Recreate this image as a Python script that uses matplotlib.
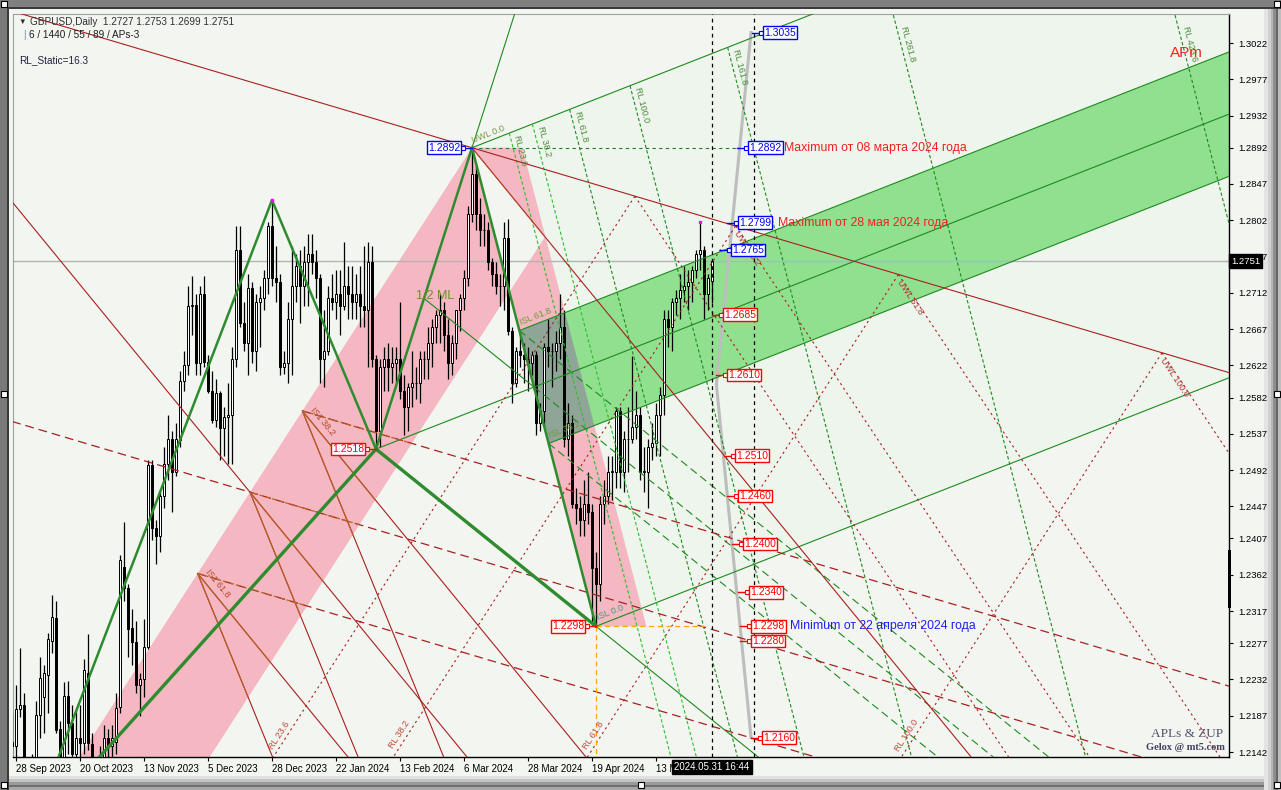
import numpy as np
import pandas as pd
import matplotlib
matplotlib.use("Agg")
import matplotlib.pyplot as plt
import matplotlib.transforms as mtransforms
from matplotlib.patches import Polygon, Rectangle

plt.rcParams['font.family'] = ['Liberation Sans', 'DejaVu Sans']

# daily bars GBPUSD, 27 Sep 2023 .. 31 May 2024 (no bars on 25 Dec / 1 Jan)
dates = pd.bdate_range('2023-09-27', '2024-05-31')
dates = dates[~dates.isin(pd.to_datetime(['2023-12-25', '2024-01-01']))]

opens = [1.2155,1.2150,1.2195,1.2200,1.2080,1.2095,1.2135,1.2188,1.2210,1.2238,
         1.2280,1.2308,1.2170,1.2132,1.2212,1.2178,1.2140,1.2160,1.2153,1.2240,
         1.2152,1.2100,1.2125,1.2130,1.2160,1.2150,1.2155,1.2198,1.2372,1.2345,
         1.2296,1.2278,1.2225,1.2232,1.2272,1.2498,1.2420,1.2410,1.2460,1.2500,
         1.2530,1.2490,1.2529,1.2602,1.2622,1.2695,1.2697,1.2625,1.2710,1.2626,
         1.2590,1.2554,1.2587,1.2544,1.2558,1.2560,1.2630,1.2765,1.2675,1.2650,
         1.2718,1.2640,1.2700,1.2705,1.2730,1.2795,1.2730,1.2725,1.2620,1.2625,
         1.2680,1.2720,1.2745,1.2720,1.2750,1.2760,1.2750,1.2730,1.2630,1.2640,
         1.2705,1.2700,1.2710,1.2695,1.2720,1.2710,1.2700,1.2710,1.2695,1.2690,
         1.2750,1.2630,1.2540,1.2620,1.2630,1.2620,1.2625,1.2630,1.2590,1.2570,
         1.2595,1.2600,1.2600,1.2630,1.2630,1.2650,1.2670,1.2685,1.2690,1.2660,
         1.2625,1.2650,1.2690,1.2705,1.2730,1.2810,1.2860,1.2810,1.2790,1.2790,
         1.2750,1.2735,1.2720,1.2720,1.2780,1.2665,1.2600,1.2640,1.2635,1.2630,
         1.2625,1.2635,1.2550,1.2565,1.2645,1.2640,1.2640,1.2650,1.2670,1.2530,
         1.2550,1.2450,1.2445,1.2430,1.2450,1.2440,1.2370,1.2350,1.2450,1.2460,
         1.2490,1.2490,1.2565,1.2490,1.2530,1.2530,1.2545,1.2560,1.2490,1.2490,
         1.2520,1.2525,1.2560,1.2585,1.2680,1.2670,1.2700,1.2705,1.2715,1.2720,
         1.2725,1.2740,1.2760,1.2765,1.2710,1.2727]
highs = [1.2190,1.2225,1.2271,1.2215,1.2135,1.2140,1.2205,1.2260,1.2250,1.2290,
         1.2337,1.2330,1.2180,1.2229,1.2230,1.2200,1.2195,1.2200,1.2258,1.2289,
         1.2165,1.2135,1.2150,1.2175,1.2170,1.2175,1.2215,1.2386,1.2428,1.2350,
         1.2320,1.2305,1.2240,1.2307,1.2505,1.2505,1.2430,1.2465,1.2520,1.2560,
         1.2540,1.2550,1.2615,1.2640,1.2720,1.2733,1.2710,1.2720,1.2733,1.2635,
         1.2615,1.2605,1.2590,1.2570,1.2600,1.2645,1.2795,1.2795,1.2700,1.2735,
         1.2725,1.2710,1.2720,1.2740,1.2800,1.2827,1.2770,1.2735,1.2640,1.2700,
         1.2770,1.2760,1.2765,1.2770,1.2785,1.2785,1.2765,1.2735,1.2690,1.2720,
         1.2735,1.2740,1.2740,1.2775,1.2745,1.2745,1.2735,1.2745,1.2770,1.2775,
         1.2770,1.2635,1.2630,1.2645,1.2650,1.2645,1.2645,1.2700,1.2610,1.2600,
         1.2640,1.2620,1.2640,1.2640,1.2670,1.2680,1.2690,1.2710,1.2700,1.2680,
         1.2660,1.2690,1.2710,1.2740,1.2820,1.2892,1.2870,1.2830,1.2810,1.2800,
         1.2755,1.2750,1.2735,1.2800,1.2803,1.2670,1.2645,1.2665,1.2650,1.2645,
         1.2640,1.2640,1.2575,1.2650,1.2680,1.2650,1.2665,1.2710,1.2690,1.2575,
         1.2560,1.2470,1.2460,1.2480,1.2490,1.2450,1.2390,1.2460,1.2480,1.2510,
         1.2510,1.2570,1.2570,1.2540,1.2570,1.2634,1.2590,1.2570,1.2520,1.2530,
         1.2550,1.2575,1.2595,1.2690,1.2690,1.2705,1.2715,1.2735,1.2745,1.2740,
         1.2745,1.2765,1.2800,1.2770,1.2735,1.2753]
lows = [1.2110,1.2110,1.2185,1.2075,1.2037,1.2050,1.2115,1.2160,1.2165,1.2190,
        1.2265,1.2165,1.2123,1.2120,1.2140,1.2120,1.2090,1.2125,1.2140,1.2145,
        1.2095,1.2070,1.2110,1.2120,1.2110,1.2100,1.2140,1.2190,1.2330,1.2260,
        1.2250,1.2215,1.2187,1.2210,1.2270,1.2405,1.2375,1.2390,1.2445,1.2480,
        1.2440,1.2485,1.2520,1.2590,1.2610,1.2660,1.2610,1.2610,1.2620,1.2588,
        1.2550,1.2545,1.2505,1.2510,1.2500,1.2500,1.2620,1.2670,1.2640,1.2610,
        1.2625,1.2615,1.2645,1.2690,1.2710,1.2720,1.2700,1.2610,1.2611,1.2600,
        1.2610,1.2700,1.2675,1.2695,1.2695,1.2735,1.2705,1.2600,1.2595,1.2635,
        1.2690,1.2680,1.2660,1.2690,1.2680,1.2680,1.2680,1.2670,1.2670,1.2620,
        1.2620,1.2518,1.2520,1.2590,1.2590,1.2600,1.2600,1.2580,1.2535,1.2540,
        1.2570,1.2580,1.2575,1.2605,1.2605,1.2620,1.2650,1.2650,1.2640,1.2605,
        1.2610,1.2630,1.2665,1.2690,1.2720,1.2800,1.2790,1.2770,1.2770,1.2740,
        1.2720,1.2710,1.2695,1.2690,1.2660,1.2575,1.2595,1.2620,1.2600,1.2590,
        1.2610,1.2535,1.2540,1.2545,1.2620,1.2595,1.2615,1.2630,1.2520,1.2510,
        1.2445,1.2425,1.2410,1.2410,1.2425,1.2300,1.2298,1.2330,1.2425,1.2450,
        1.2455,1.2470,1.2470,1.2465,1.2490,1.2525,1.2530,1.2480,1.2465,1.2445,
        1.2505,1.2510,1.2510,1.2560,1.2645,1.2640,1.2685,1.2680,1.2700,1.2690,
        1.2700,1.2730,1.2740,1.2680,1.2690,1.2699]
closes = [1.2150,1.2195,1.2200,1.2080,1.2095,1.2135,1.2188,1.2234,1.2240,1.2282,
          1.2309,1.2169,1.2132,1.2212,1.2178,1.2140,1.2160,1.2153,1.2244,1.2153,
          1.2100,1.2125,1.2130,1.2160,1.2150,1.2160,1.2197,1.2380,1.2345,1.2295,
          1.2278,1.2225,1.2232,1.2272,1.2498,1.2420,1.2410,1.2460,1.2500,1.2530,
          1.2490,1.2530,1.2602,1.2622,1.2695,1.2697,1.2625,1.2710,1.2626,1.2590,
          1.2554,1.2587,1.2544,1.2558,1.2560,1.2630,1.2765,1.2675,1.2650,1.2718,
          1.2640,1.2700,1.2705,1.2730,1.2795,1.2730,1.2725,1.2620,1.2625,1.2680,
          1.2720,1.2745,1.2720,1.2750,1.2760,1.2750,1.2730,1.2630,1.2640,1.2705,
          1.2700,1.2710,1.2695,1.2720,1.2710,1.2700,1.2710,1.2695,1.2690,1.2750,
          1.2630,1.2540,1.2620,1.2630,1.2620,1.2625,1.2630,1.2590,1.2570,1.2595,
          1.2600,1.2600,1.2630,1.2630,1.2650,1.2670,1.2685,1.2690,1.2660,1.2625,
          1.2650,1.2690,1.2705,1.2730,1.2810,1.2860,1.2810,1.2790,1.2790,1.2750,
          1.2735,1.2720,1.2720,1.2780,1.2665,1.2600,1.2640,1.2635,1.2630,1.2625,
          1.2635,1.2550,1.2565,1.2645,1.2640,1.2640,1.2650,1.2670,1.2530,1.2550,
          1.2450,1.2445,1.2430,1.2450,1.2440,1.2370,1.2350,1.2450,1.2460,1.2490,
          1.2490,1.2565,1.2490,1.2530,1.2530,1.2545,1.2560,1.2490,1.2490,1.2520,
          1.2525,1.2560,1.2585,1.2680,1.2670,1.2700,1.2705,1.2715,1.2720,1.2725,
          1.2740,1.2760,1.2765,1.2710,1.2730,1.2751]

# ZUP zigzag extremes: bar index, price
zz_bars = [4, 65, 91, 115, 146]
zz_prices = [1.2037, 1.2827, 1.2518, 1.2892, 1.2298]

price_ticks = [1.3022, 1.2977, 1.2932, 1.2892, 1.2847, 1.2802, 1.2757, 1.2712, 1.2667,
               1.2622, 1.2582, 1.2537, 1.2492, 1.2447, 1.2407, 1.2362, 1.2317, 1.2277,
               1.2232, 1.2187, 1.2142]
tick_dates = ['2023-09-28', '2023-10-20', '2023-11-13', '2023-12-05', '2023-12-28',
              '2024-01-22', '2024-02-13', '2024-03-06', '2024-03-28', '2024-04-19',
              '2024-05-13']

# price labels right of the last bar: anchor bar, price, colour
right_bars = [185.0, 181.25, 178.75, 177.0, 175.0, 176.0, 178.0, 178.75, 180.0, 181.5, 182.0, 182.0, 184.75]
right_prices = [1.3035, 1.2892, 1.2799, 1.2765, 1.2685, 1.2610, 1.2510, 1.2460, 1.2400, 1.2340, 1.2298, 1.2280, 1.2160]
right_cols = ['b', 'b', 'b', 'b', 'r', 'r', 'r', 'r', 'r', 'r', 'r', 'r', 'r']

notes = ['Maximum от 08 марта 2024 года', 'Maximum от 28 мая 2024 года', 'Minimum от 22 апреля 2024 года']
note_bars = [193.0, 191.5, 194.5]
note_prices = [1.2892, 1.2799, 1.2298]
note_cols = ['#F02020', '#F02020', '#2020F0']

gray_bars = [184.75, 176.1, 184.75]
gray_prices = [1.3035, 1.2598, 1.2160]

isl_frac = 0.236
rl_ratios = [23.6, 38.2, 61.8, 100.0, 161.8, 261.8, 423.6]
sl_fracs = [0.382, 0.5, 0.618]
fan_fracs = [0.0, 0.382, 0.5, 0.618]
uwl_ratios = [0.236, 0.382, 0.618, 1.0]
slope_a, slope_b, slope_c, slope_u = -0.0001475, -0.000606, -0.001216, -0.000745
red_len = 172.5
band_w = 32.6
wedge_w = 12.6

PINK = '#F5B7C1'
GREEN = '#90E090'
BG = '#F3F5F0'
LG = '#1E8A1E'
RED = '#A82020'
BROWN = '#B8642A'

W, H = 1281, 790
fig = plt.figure(figsize=(W / 100, H / 100), dpi=100, facecolor=BG)
ax = fig.add_axes([13 / W, 1 - 757 / H, 1216 / W, 743 / H])
ax.set_facecolor(BG)
ax.set_xlim(0.25, 304.25)
ax.set_ylim(1.21358, 1.30580)


def ang(d):
    a = ax.transData.transform((100, 1.26))
    b = ax.transData.transform((100 + d[0], 1.26 + d[1]))
    t = np.degrees(np.arctan2(b[1] - a[1], b[0] - a[0]))
    if t > 90:
        t -= 180
    if t < -90:
        t += 180
    return t


def seg(p, d, t0, t1, **kw):
    ln, = ax.plot([p[0] + t0 * d[0], p[0] + t1 * d[0]],
                  [p[1] + t0 * d[1], p[1] + t1 * d[1]], **kw)
    return ln


def cross(p, d, q, e):
    A = np.array([[d[0], -e[0]], [d[1], -e[1]]])
    t, s = np.linalg.solve(A, q - p)
    return p + t * d


P = np.column_stack([zz_bars, zz_prices]).astype(float)
P0, P1, P2, P3, P4 = P
M = (P3 + P4) / 2
md = M - P2
d34 = P4 - P3
d24 = P4 - P2
gap = P3[1] - (P2[1] + md[1] / md[0] * (P3[0] - P2[0]))
hb = isl_frac * gap

# pitchfork inner tint
k = 300 / md[0]
ax.add_patch(Polygon([P3, P3 + k * md, P4 + k * md, P4], closed=True, fc='#EEF5EC', ec='none', zorder=0.5))

# big pink band (P0-P3 line, capped by the fan line from P3)
e03 = P3 - P0
dB = np.array([1.0, slope_b])
C = cross(P3, dB, P3 + np.array([band_w, 0]), e03)
tb = (1.15 - P3[1]) / (P0[1] - P3[1])
Lb = P3 + tb * (P0 - P3)
Cb = C + (1.15 - C[1]) / (P0[1] - P3[1]) * (P0 - P3)
band = Polygon([P3, C, Cb, Lb], closed=True, fc=PINK, ec='none', zorder=1)
ax.add_patch(band)

wpts = [P3, P3 + np.array([wedge_w, 0]), P4 + np.array([wedge_w, 0]), P4]
ax.add_patch(Polygon(wpts, closed=True, fc=PINK, ec='none', zorder=1))
xo = Polygon(wpts, closed=True, fc=BG, ec='none', zorder=1.1)
ax.add_patch(xo)
xo.set_clip_path(band)

# green ISL zone
U0 = cross(P2 + np.array([0, hb]), md, P3, d34)
L0 = cross(P2 - np.array([0, hb]), md, P3, d34)
kk = (330 - U0[0]) / md[0]
gzone = Polygon([U0, U0 + kk * md, L0 + kk * md, L0], closed=True, fc=GREEN, ec='none', zorder=1.2)
ax.add_patch(gzone)
xg = Polygon(wpts, closed=True, fc='#8FA597', ec='none', zorder=1.3)
ax.add_patch(xg)
xg.set_clip_path(gzone)

ax.axhline(closes[-1], color='#B4B4B4', lw=1, zorder=1.5)

# candles
x = np.arange(len(opens))
o, h, l, c = map(np.array, (opens, highs, lows, closes))
ax.vlines(x, l, h, color='black', lw=0.9, zorder=3)
ax.bar(x, np.maximum(np.abs(c - o), 0.00003), bottom=np.minimum(o, c), width=0.62,
       color=np.where(c >= o, 'white', 'black'), edgecolor='black', lw=0.7, zorder=3.1)

# green pitchfork lines
lk = dict(color=LG, lw=0.8, zorder=3.5)
seg(P2, md, 0, 6, **lk)
seg(P3, md, 0, 6, **lk)
seg(P4, md, 0, 6, **lk)
seg(U0, md, 0, 6, **lk)
seg(L0, md, 0, 6, **lk)
seg(P3, P3 - P2, 0, 3, **lk)
seg(P4, d24, 0, 4, **lk)
seg((P2 + P3) / 2, d24, 0, 0.5, **lk)
for f in sl_fracs:
    seg(P3 + f * d34, d24, 0, 4, color=LG, lw=0.8, ls=(0, (7, 4)), zorder=3.5)
for r in rl_ratios:
    T = P3 + r / 100 * md
    col = '#2DBE2D' if r < 50 else LG
    seg(T, d34, 0, 3, color=col, lw=0.8, ls=(0, (3, 2)), zorder=3.5)
    tgt = min(T[1], 1.3045) - 0.0004
    tl = (tgt - T[1]) / d34[1]
    ax.text(T[0] + tl * d34[0] + 0.6, tgt, f'RL {r:.1f}', rotation=ang(d34), rotation_mode='anchor',
            ha='left', va='bottom', fontsize=6.5, color='#4C8C3C', zorder=5)
ax.plot([P3[0], 181.25], [P3[1], P3[1]], color='#2A7A2A', lw=0.8, ls=(0, (3, 3)), zorder=3.5)

# red fan lines from P3 -> P0
dA = np.array([1.0, slope_a])
dC = np.array([1.0, slope_c])
dU = np.array([1.0, slope_u])
F = {f: P3 + f * (P0 - P3) for f in fan_fracs}
red_solid = dict(color=RED, lw=0.8, zorder=3.5)
red_dash = dict(color=RED, lw=0.9, ls=(0, (7, 4)), zorder=3.5)
lines = []
lines.append(seg(F[0.0], dA, -300, 300, **red_solid))
lines.append(seg(F[0.5], dA, -300, 300, **red_dash))
lines.append(seg(F[0.0], dB, 0, 300, **red_solid))
lines.append(seg(F[0.5], dB, -300, 300, **red_solid))
for f in (0.382, 0.618):
    lines.append(seg(F[f], dA, 0, 300, **red_dash))
    lines.append(seg(F[f], dB, 0, 300, **red_solid))
for f in (0.382, 0.5, 0.618):
    lines.append(seg(F[f], dC, 0, 300, **red_solid))
for ln in lines:
    bl, = ax.plot(*ln.get_data(), color=BROWN, lw=ln.get_linewidth(), ls=ln.get_linestyle(), zorder=3.6)
    bl.set_clip_path(band)
for f in (0.382, 0.618):
    ax.text(F[f][0] + 1.5, F[f][1], f'IS1 {f * 100:.1f}', rotation=ang(dB), rotation_mode='anchor',
            ha='left', va='bottom', fontsize=6.5, color='#B04A2A', zorder=5)

dR = red_len * dA
red_dot = dict(color=RED, lw=0.8, ls=(0, (2, 3)), zorder=3.5)
for f in uwl_ratios:
    G = P3 + f * dR
    seg(G, dU, 0, 300, **red_dot)
    seg(G, P0 - P3, 0, 2, **red_dot)
    if f > 0.3:
        ax.text(G[0] + 1.0, G[1] - 0.0004, f'UWL {f * 100:.1f}', rotation=ang(dU), rotation_mode='anchor',
                ha='left', va='top', fontsize=6.5, color='#B03838', zorder=5)
    tt = (1.2160 - G[1]) / (P0[1] - P3[1])
    q = G + tt * (P0 - P3)
    ax.text(q[0] - 0.8, q[1], f'RL {f * 100:.1f}', rotation=ang(P3 - P0), rotation_mode='anchor',
            ha='center', va='bottom', fontsize=6.5, color='#C04A3A', zorder=5)

# zigzag
zk = dict(color='#2E8B2E', solid_capstyle='round', zorder=4)
for a, b, w in [(P0, P1, 1.8), (P1, P2, 1.8), (P2, P3, 1.8), (P3, P4, 1.8), (P0, P2, 2.4), (P2, P4, 2.4)]:
    ax.plot([a[0], b[0]], [a[1], b[1]], lw=w, **zk)
ax.plot([P1[0], P3[0], 172], [P1[1], P3[1], 1.2800], ls='none', marker='s', ms=2, color='#FF00FF', zorder=4.5)

# horizontal/vertical helpers
ax.plot([P4[0], 173], [P4[1], P4[1]], color='#FFA500', lw=0.9, ls=(0, (4, 3)), zorder=3.5)
ax.plot([P4[0], P4[0]], [P4[1], 1.20], color='#FFA500', lw=0.9, ls=(0, (4, 3)), zorder=3.5)
ax.axvline(len(opens) - 1, color='black', lw=0.9, ls=(0, (3, 3)), zorder=3.5)
ax.axvline(185.5, color='black', lw=0.9, ls=(0, (3, 3)), zorder=3.5)
ax.plot(gray_bars, gray_prices, color='#BDBDBD', lw=2.2, zorder=3.4)

# zone labels
lab = dict(fontsize=6.5, rotation_mode='anchor', zorder=5)
ax.text(U0[0] + 0.5, U0[1] + 0.0004, 'ISL 61.8', rotation=ang(md), ha='left', va='bottom', color='#6E9A3E', **lab)
ax.text(L0[0] + 0.5, L0[1] + 0.0004, 'ISL 38.2', rotation=ang(md), ha='left', va='bottom', color='#6E9A3E', **lab)
ax.text(P4[0] + 0.8, P4[1] + 0.0006, 'ISL 0.0', rotation=ang(md), ha='left', va='bottom', color='#4E9A7A', **lab)
ax.text(P3[0] + 0.5, P3[1] + 0.0003, 'UWL 0.0', rotation=ang(md), ha='left', va='bottom', color='#7A9A46', **lab)
mid23 = (P2 + P3) / 2
ax.text(mid23[0] - 2, mid23[1] - 0.0004, '1/2 ML', fontsize=9, color='#6E8E2E', ha='left', va='bottom', zorder=5)


def price_box(b, p, col, side):
    s = 1 if side == 'r' else -1
    ax.plot([b, b + s * 2.0], [p, p], color=col, lw=1, zorder=6)
    ax.plot([b + s * 2.2], [p], marker='s', ms=2.6, mfc='white', mec=col, mew=0.8, zorder=6)
    ax.text(b + s * 3.0, p, f'{p:.4f}', ha='left' if s > 0 else 'right', va='center', fontsize=7.5,
            color=col, zorder=6.5,
            bbox=dict(boxstyle='square,pad=0.12', fc='white', ec=col, lw=1))


cmap = {'b': '#0000FF', 'r': '#FF0000'}
for b, p, cc in zip(right_bars, right_prices, right_cols):
    price_box(b, p, cmap[cc], 'r')
for b, p, cc in zip([P3[0], P2[0], P4[0]], [P3[1], P2[1], P4[1]], ['b', 'r', 'r']):
    price_box(b, p, cmap[cc], 'l')
for t, b, p, cc in zip(notes, note_bars, note_prices, note_cols):
    ax.text(b, p, t, ha='left', va='center', fontsize=8.8, color=cc, zorder=6)

# axes / ticks
for s in ('top', 'left'):
    ax.spines[s].set_color('#A0A0A0')
    ax.spines[s].set_linewidth(0.8)
for s in ('right', 'bottom'):
    ax.spines[s].set_color('black')
    ax.spines[s].set_linewidth(1)
ax.yaxis.tick_right()
ax.set_yticks(price_ticks)
ax.set_yticklabels([f'{v:.4f}' for v in price_ticks])
ax.tick_params(axis='y', direction='out', length=3, width=0.8, pad=4, labelsize=6.8, colors='black')
tpos = [dates.get_loc(pd.Timestamp(d)) for d in tick_dates]
ax.set_xticks(tpos)
ax.set_xticklabels([f'{pd.Timestamp(d).day} {pd.Timestamp(d):%b %Y}' for d in tick_dates], ha='left')
ax.tick_params(axis='x', direction='out', length=3, width=0.8, pad=2, labelsize=7, colors='black')

bt = mtransforms.blended_transform_factory(ax.transAxes, ax.transData)
ax.text(1.0 + 2 / 1216, closes[-1], f'{closes[-1]:.4f}', transform=bt, ha='left', va='center', fontsize=6.8,
        color='white', zorder=10, clip_on=False,
        bbox=dict(boxstyle='square,pad=0.25', fc='black', ec='black'))
bx = mtransforms.blended_transform_factory(ax.transData, ax.transAxes)
ax.text(len(opens) - 1, -10 / 743, '2024.05.31 16:44', transform=bx, ha='center', va='center', fontsize=7,
        color='white', zorder=10, clip_on=False,
        bbox=dict(boxstyle='square,pad=0.25', fc='black', ec='black'))

# header texts
ft = dict(fontsize=7.2, va='center')
fig.text(18 / W, 1 - 22 / H, '▼', fontsize=5.5, color='#303030', va='center')
fig.text(30 / W, 1 - 22 / H, 'GBPUSD,Daily  1.2727 1.2753 1.2699 1.2751', color='#303030', **ft)
fig.text(23 / W, 1 - 35 / H, '|', color='#4A90E0', **ft)
fig.text(29 / W, 1 - 35 / H, '6 / 1440 / 55 / 89 / APs-3', color='#202020', **ft)
fig.text(19 / W, 1 - 60 / H, 'RL_Static=16.3', color='#202040', **ft)
fig.text(1170 / W, 1 - 53 / H, 'APm', fontsize=11, color='#FF2020', va='center')
fig.text(1151 / W, 1 - 734 / H, 'APLs & ZUP', fontsize=9.5, family='Liberation Serif', color='#505070', va='center')
fig.text(1146 / W, 1 - 747 / H, 'Gelox @ mt5.com', fontsize=7.5, family='Liberation Serif', color='#404060',
         va='center', weight='bold')


def frame(x0, y0, w, h, col, z=-5, **kw):
    fig.add_artist(Rectangle((x0 / W, 1 - (y0 + h) / H), w / W, h / H, transform=fig.transFigure,
                             fc=col, ec=kw.get('ec', 'none'), lw=kw.get('lw', 0), zorder=z))


frame(0, 0, W, 8, '#808080')
frame(0, 7, W, 2, '#3A3A3A')
frame(0, 0, 7, H, '#7A7A7A')
frame(7, 9, 2, H, '#3A3A3A')
for x0, w, col in [(1264, 4, '#E4E4E4'), (1268, 3, '#D0D0D0'), (1271, 2, '#B6B6B6'),
                   (1273, 3, '#8E8E8E'), (1276, 2, '#666666'), (1278, 3, '#BEBEBE')]:
    frame(x0, 9, w, H, col)
for y0, hh, col in [(776, 3, '#E0E0E0'), (779, 3, '#C4C4C4'), (782, 3, '#9A9A9A'),
                    (785, 2, '#6E6E6E'), (787, 3, '#A8A8A8')]:
    frame(9, y0, 1255, hh, col)
frame(1228, 550, 3, 58, 'black', z=12)
for hx, hy in [(1, 1), (1, 391), (1, 782), (638, 782), (1274, 782), (1274, 391), (1274, 1)]:
    frame(hx, hy, 6, 6, 'white', z=12, ec='black', lw=0.8)

fig.savefig('out.png', dpi=100, facecolor=fig.get_facecolor())
